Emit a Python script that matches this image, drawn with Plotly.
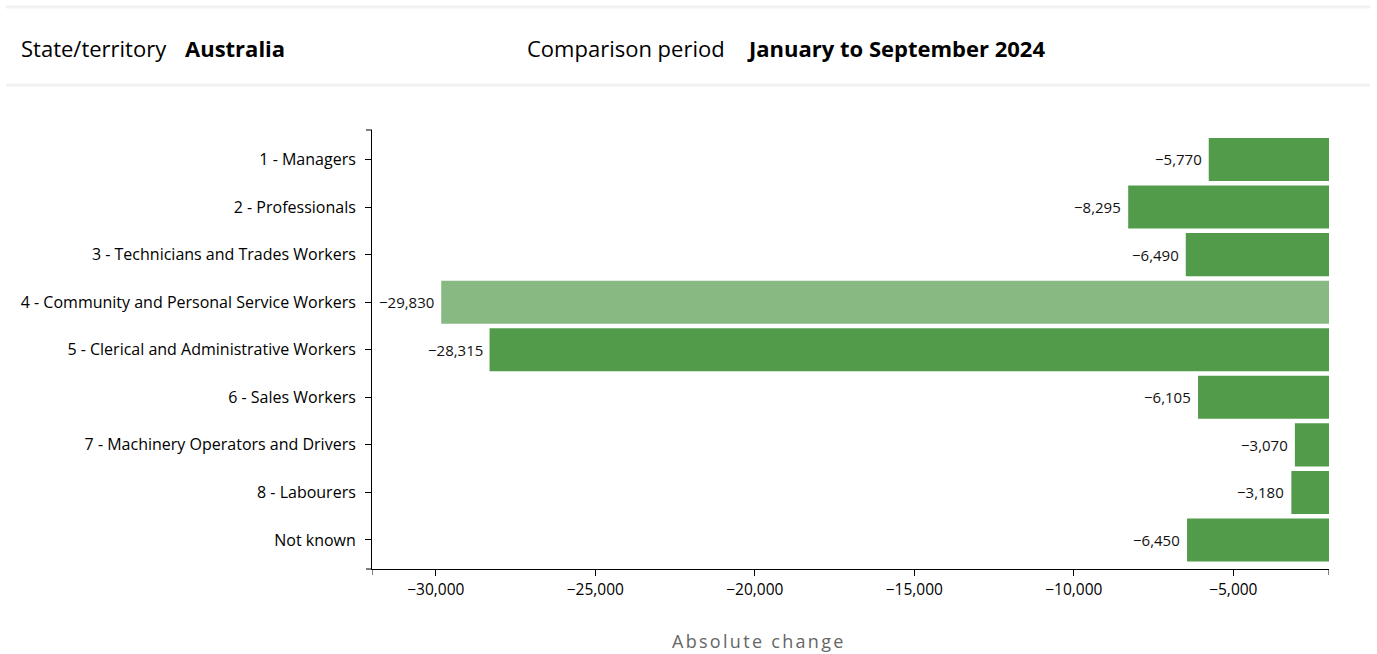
import plotly.graph_objects as go

# Occupation groups and absolute change in the comparison period
occupations = [
    "1 - Managers",
    "2 - Professionals",
    "3 - Technicians and Trades Workers",
    "4 - Community and Personal Service Workers",
    "5 - Clerical and Administrative Workers",
    "6 - Sales Workers",
    "7 - Machinery Operators and Drivers",
    "8 - Labourers",
    "Not known",
]
abs_change = [-5770, -8295, -6490, -29830, -28315, -6105, -3070, -3180, -6450]
highlighted = "4 - Community and Personal Service Workers"

x_ticks = [-30000, -25000, -20000, -15000, -10000, -5000]
x_range = [-32000, -2000]

state_label, state_value = "State/territory", "Australia"
period_label, period_value = "Comparison period", "January to September 2024"

W, H = 1377, 654
M_L, M_R, M_T, M_B = 372, 48, 130, 85
PW, PH = W - M_L - M_R, H - M_T - M_B

FONT = "Segoe UI, Open Sans, Noto Sans, sans-serif"
DARK = "#529b4b"
LIGHT = "#88b982"


def px_x(px):
    return (px - M_L) / PW


def px_y(py):
    return (H - M_B - py) / PH


def fmt(v):
    s = f"{abs(v):,}"
    return ("\u2212" + s) if v < 0 else s


colors = [LIGHT if o == highlighted else DARK for o in occupations]

fig = go.Figure(
    go.Bar(
        y=occupations,
        x=abs_change,
        orientation="h",
        marker=dict(color=colors, line=dict(width=0)),
        hoverinfo="skip",
    )
)

annotations = []
# value labels at the end of each bar
for o, v in zip(occupations, abs_change):
    annotations.append(dict(
        x=v, y=o, xref="x", yref="y", text=fmt(v), showarrow=False,
        xanchor="right", xshift=-5, font=dict(family=FONT, size=15, color="#111"),
    ))

# header row
for px, txt, bold in [(19, state_label, False), (183, state_value, True),
                      (525, period_label, False), (745, period_value, True)]:
    annotations.append(dict(
        x=px_x(px), y=px_y(48), xref="paper", yref="paper",
        text=f"<b>{txt}</b>" if bold else txt, showarrow=False,
        xanchor="left", yanchor="middle",
        font=dict(family=FONT, size=22, color="#000"),
    ))

# axis title
annotations.append(dict(
    x=px_x(759), y=px_y(641), xref="paper", yref="paper",
    text='<span style="letter-spacing:2.3px">Absolute change</span>',
    showarrow=False, xanchor="center", yanchor="middle",
    font=dict(family=FONT, size=18, color="#666"),
))

shapes = []
# header separators
for py in (7, 85):
    shapes.append(dict(
        type="line", xref="paper", yref="paper",
        x0=px_x(6), x1=px_x(1370), y0=px_y(py), y1=px_y(py),
        line=dict(color="#f1f1f1", width=3), layer="below",
    ))
# outer end ticks of the axes
for xv in x_range:
    shapes.append(dict(
        type="line", xref="x", yref="paper", ysizemode="pixel", yanchor=0,
        x0=xv, x1=xv, y0=0, y1=-6, line=dict(color="#000", width=1),
    ))
for yv in (0, 1):
    shapes.append(dict(
        type="line", xref="paper", yref="paper", xsizemode="pixel", xanchor=0,
        x0=0, x1=-6, y0=yv, y1=yv, line=dict(color="#000", width=1),
    ))

fig.update_layout(
    width=W, height=H,
    margin=dict(l=M_L, r=M_R, t=M_T, b=M_B, pad=0),
    paper_bgcolor="white", plot_bgcolor="white",
    showlegend=False,
    bargap=0.095,
    font=dict(family=FONT, size=15, color="#000"),
    xaxis=dict(
        range=x_range, tickvals=x_ticks, ticktext=[fmt(t) for t in x_ticks],
        showgrid=False, zeroline=False, showline=True, linecolor="#000", linewidth=1,
        ticks="outside", ticklen=6, tickcolor="#000", tickwidth=1,
        tickfont=dict(family=FONT, size=15.5, color="#000"), fixedrange=True,
    ),
    yaxis=dict(
        categoryorder="array", categoryarray=occupations, range=[8.61, -0.62],
        showgrid=False, zeroline=False, showline=True, linecolor="#000", linewidth=1,
        ticks="outside", ticklen=6, tickcolor="#000", tickwidth=1,
        tickfont=dict(family=FONT, size=16, color="#000"), fixedrange=True,
        ticklabelstandoff=6,
    ),
    annotations=annotations,
    shapes=shapes,
)

fig.write_html("out.html", config={"displayModeBar": False})
